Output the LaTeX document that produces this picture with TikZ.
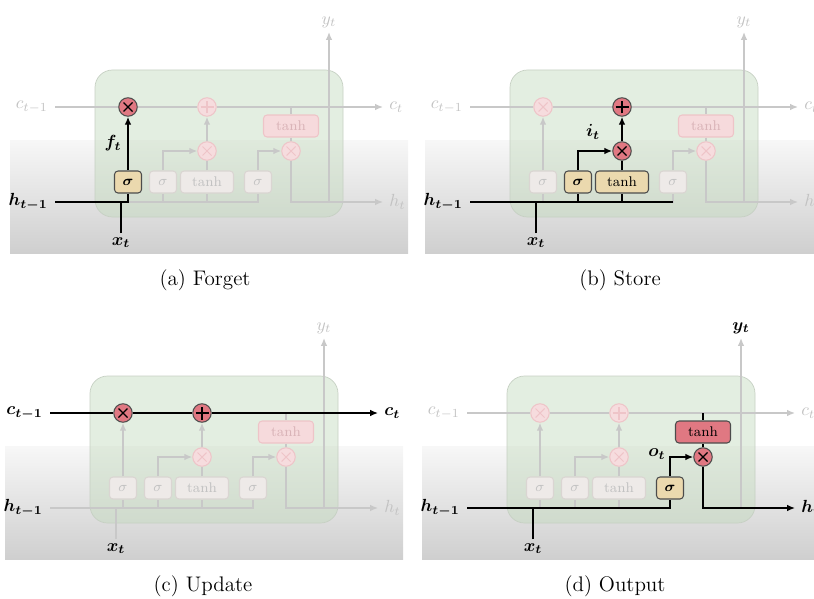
\documentclass[tikz,border=0pt]{standalone}
\usepackage{amsmath,amssymb,bm}
\usepackage{tikz}
\usetikzlibrary{arrows.meta,positioning,calc}
\usepackage{xcolor}
\definecolor{OpRed}{HTML}{E07882}
\definecolor{GateTan}{HTML}{EBD9AE}
\definecolor{FadeLine}{HTML}{C8C8C8}
\definecolor{FadeText}{HTML}{C2C2C2}
\definecolor{FadeOp}{HTML}{F6DCDE}
\definecolor{FadeOpRim}{HTML}{EEC4C8}
\definecolor{FadeBox}{HTML}{EEEAE8}
\definecolor{FadeBoxRim}{HTML}{DAD5D2}
\definecolor{FadePink}{HTML}{F6DADC}
\definecolor{FadePinkText}{HTML}{D9B3B7}
\definecolor{CellGreen}{HTML}{C2DABC}
\definecolor{CellRim}{HTML}{C6D0C3}
\definecolor{BandGray}{HTML}{CFCFCF}

% one faded cell, node names get prefix #1
\newcommand{\lstmcell}[1]{%
  \shade[top color=white!97!black,bottom color=BandGray] (10,140) rectangle (408,253);
  \draw[draw=CellRim,fill=CellGreen,fill opacity=.45,rounded corners=0.35cm] (95,70) rectangle (343,217);
  \coordinate (#1cin) at (55,107);
  \coordinate (#1cout) at (383,107);
  \coordinate (#1hin) at (55,202);
  \coordinate (#1hout) at (383,202);
  \coordinate (#1xin) at (121,233);
  \coordinate (#1yout) at (329,32);
  \node[nm1,mul] (#1m1) at (128,107) {};
  \node[nad,add] (#1ad) at (207,107) {};
  \node[nm2,mul] (#1m2) at (207,151) {};
  \node[nm3,mul] (#1m3) at (291,151) {};
  \node[ns1,minimum width=0.54cm] (#1s1) at (128,182) {$\sigma$};
  \node[ns2,minimum width=0.54cm] (#1s2) at (163,182) {$\sigma$};
  \node[nt1,minimum width=1.06cm] (#1t1) at (207,182) {tanh};
  \node[ns3,minimum width=0.54cm] (#1s3) at (258,182) {$\sigma$};
  \node[nt2,minimum width=1.1cm] (#1t2) at (291,126) {tanh};
  \draw[wire] (#1cin) -- (#1m1) -- (#1ad);
  \draw[wire,->] (#1ad) -- (#1cout);
  \draw[wire] (#1hin) -| (#1s3);
  \draw[wire] (#1s1 |- #1hin) -- (#1s1) (#1s2 |- #1hin) -- (#1s2) (#1t1 |- #1hin) -- (#1t1);
  \draw[wire,->] (#1s1) -- (#1m1);
  \draw[wire,->] (#1s2) |- (#1m2);
  \draw[wire] (#1t1) -- (#1m2);
  \draw[wire,->] (#1m2) -- (#1ad);
  \draw[wire,->] (#1s3) |- (#1m3);
  \draw[wire] (#1t2 |- #1cin) -- (#1t2) (#1t2) -- (#1m3);
  \draw[wire,->] (#1m3) |- (#1hout);
  \draw[wire,->] (#1yout |- #1hin) -- (#1yout);
  \draw[wire] (#1xin) -- (#1xin |- #1hin);
  \node[labcin,left=0.14cm of #1cin] (#1lcin) {$c_{t-1}$};
  \node[labcout,right=0.12cm of #1cout] (#1lcout) {$c_t$};
  \node[labhin,left=0.14cm of #1hin] (#1lhin) {$h_{t-1}$};
  \node[labhout,right=0.12cm of #1hout] (#1lhout) {$h_t$};
  \node[labx,below=0.08cm of #1xin] (#1lx) {$x_t$};
  \node[laby,above=0.08cm of #1yout] (#1ly) {$y_t$};
}

\begin{document}
\begin{tikzpicture}[x=0.02cm,y=-0.02cm,>={Latex[length=4.5pt,width=3.8pt]},
  wire/.style={FadeLine,line width=0.8pt},
  wireon/.style={black,line width=1.3pt},
  lbloff/.style={inner sep=0pt,text=FadeText},
  lblon/.style={inner sep=0pt,text=black,font=\boldmath},
  gate/.style={draw,rounded corners=2pt,minimum height=0.44cm,inner sep=0pt,font=\footnotesize,line width=0.6pt},
  gateoff/.style={gate,fill=FadeBox,draw=FadeBoxRim,text=FadeText},
  gateon/.style={gate,fill=GateTan,draw=black!70,text=black,font=\footnotesize\boldmath},
  tanhoff/.style={gate,fill=FadePink,draw=FadeOpRim,text=FadePinkText},
  tanhon/.style={gate,fill=OpRed,draw=black!70,text=black},
  opoff/.style={circle,draw=FadeOpRim,fill=FadeOp,minimum size=0.37cm,inner sep=0pt,line width=0.6pt,opsign/.style={FadeOpRim,line width=0.6pt}},
  opon/.style={circle,draw=black!70,fill=OpRed,minimum size=0.37cm,inner sep=0pt,line width=0.6pt,opsign/.style={black,line width=0.7pt}},
  mul/.style={path picture={\draw[opsign] ([shift={(-0.09cm,-0.09cm)}]path picture bounding box.center) -- ([shift={(0.09cm,0.09cm)}]path picture bounding box.center) ([shift={(-0.09cm,0.09cm)}]path picture bounding box.center) -- ([shift={(0.09cm,-0.09cm)}]path picture bounding box.center);}},
  add/.style={path picture={\draw[opsign] ([xshift=-0.13cm]path picture bounding box.center) -- ([xshift=0.13cm]path picture bounding box.center) ([yshift=-0.13cm]path picture bounding box.center) -- ([yshift=0.13cm]path picture bounding box.center);}},
  nm1/.style=opoff, nad/.style=opoff, nm2/.style=opoff, nm3/.style=opoff,
  ns1/.style=gateoff, ns2/.style=gateoff, nt1/.style=gateoff, ns3/.style=gateoff, nt2/.style=tanhoff,
  labcin/.style=lbloff, labcout/.style=lbloff, labhin/.style=lbloff, labhout/.style=lbloff, labx/.style=lbloff, laby/.style=lbloff]
  \useasboundingbox (0,0) rectangle (814,598);

  % (a) forget
  \begin{scope}[labhin/.style=lblon,labx/.style=lblon,ns1/.style=gateon,nm1/.style=opon]
    \lstmcell{a}
    \draw[wireon] (ahin) -| (as1);
    \draw[wireon] (axin) -- (axin |- ahin);
    \draw[wireon,->] (as1) -- (am1);
    \node[lblon] (aft) at (113,143) {$f_t$};
    \node[font=\large] (acap) at (205,280) {(a) Forget};
  \end{scope}

  % (b) store
  \begin{scope}[shift={(415,0)},labhin/.style=lblon,labx/.style=lblon,ns2/.style=gateon,nt1/.style=gateon,nm2/.style=opon,nad/.style=opon]
    \lstmcell{b}
    \draw[wireon] (bhin) -- (bs3 |- bhin);
    \draw[wireon] (bxin) -- (bxin |- bhin);
    \draw[wireon] (bs2 |- bhin) -- (bs2) (bt1 |- bhin) -- (bt1);
    \draw[wireon,->] (bs2) |- (bm2);
    \draw[wireon] (bt1) -- (bm2);
    \draw[wireon,->] (bm2) -- (bad);
    \node[lblon] (bit) at (178,132) {$i_t$};
    \node[font=\large] (bcap) at (205,280) {(b) Store};
  \end{scope}

  % (c) update
  \begin{scope}[shift={(-5,306)},labcin/.style=lblon,labcout/.style=lblon,labhin/.style=lblon,labx/.style=lblon,nm1/.style=opon,nad/.style=opon]
    \lstmcell{c}
    \draw[wireon] (ccin) -- (cm1) -- (cad);
    \draw[wireon,->] (cad) -- (ccout);
    \node[font=\large] (ccap) at (208,280) {(c) Update};
  \end{scope}

  % (d) output
  \begin{scope}[shift={(412,306)},labhin/.style=lblon,labx/.style=lblon,labhout/.style=lblon,laby/.style=lblon,ns3/.style=gateon,nt2/.style=tanhon,nm3/.style=opon]
    \lstmcell{d}
    \draw[wireon] (dhin) -| (ds3);
    \draw[wireon] (dxin) -- (dxin |- dhin);
    \draw[wireon,->] (ds3) |- (dm3);
    \draw[wireon] (dt2 |- dcin) -- (dt2) (dt2) -- (dm3);
    \draw[wireon,->] (dm3) |- (dhout);
    \node[lblon] (dot) at (245,148) {$o_t$};
    \node[font=\large] (dcap) at (203,280) {(d) Output};
  \end{scope}
\end{tikzpicture}
\end{document}
